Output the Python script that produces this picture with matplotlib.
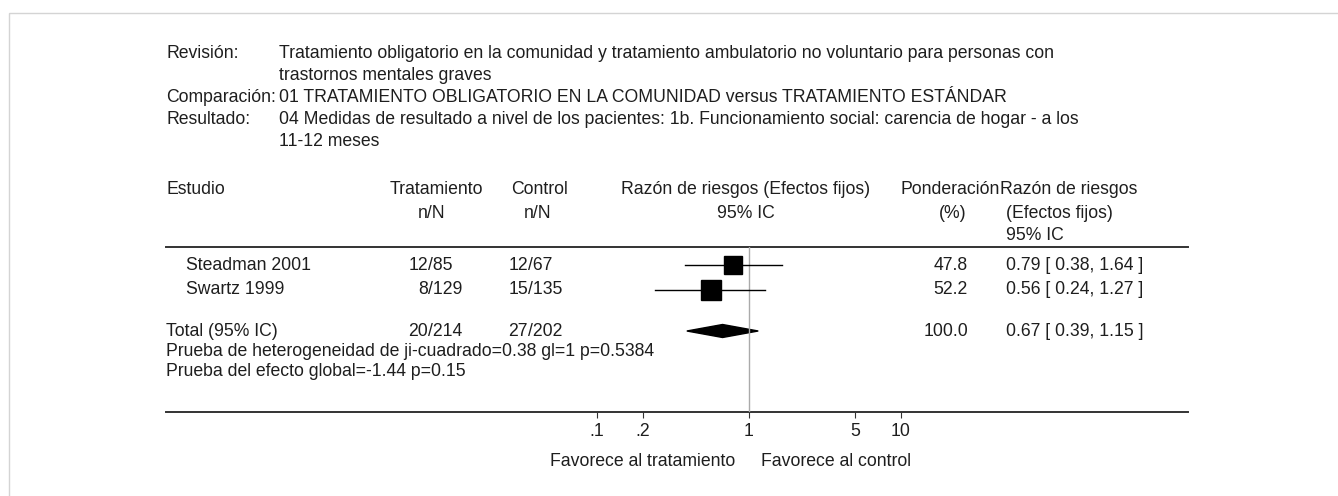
import matplotlib.pyplot as plt
from matplotlib.patches import Polygon, Rectangle

plt.rcParams['font.family'] = ['Liberation Sans', 'DejaVu Sans']

# datos
estudios = ['Steadman 2001', 'Swartz 1999']
trat_n = [12, 8]
trat_N = [85, 129]
ctrl_n = [12, 15]
ctrl_N = [67, 135]
rr = [0.79, 0.56]
ic_inf = [0.38, 0.24]
ic_sup = [1.64, 1.27]
pesos = [47.8, 52.2]

total_trat = (20, 214)
total_ctrl = (27, 202)
total_rr = 0.67
total_ic = (0.39, 1.15)
total_peso = 100.0

ticks = [0.1, 0.2, 1, 5, 10]
tick_labels = ['.1', '.2', '1', '5', '10']

titulos = [
    ('Revisión:', 'Tratamiento obligatorio en la comunidad y tratamiento ambulatorio no voluntario para personas con'),
    ('', 'trastornos mentales graves'),
    ('Comparación:', '01 TRATAMIENTO OBLIGATORIO EN LA COMUNIDAD versus TRATAMIENTO ESTÁNDAR'),
    ('Resultado:', '04 Medidas de resultado a nivel de los pacientes: 1b. Funcionamiento social: carencia de hogar - a los'),
    ('', '11-12 meses'),
]

W, H = 1338, 496
fs = 12.7
tc = '#1e1e1e'

fig = plt.figure(figsize=(W / 100, H / 100), dpi=100)
ax = fig.add_axes([0, 0, 1, 1])
ax.set_xlim(0, W)
ax.set_ylim(H, 0)
ax.axis('off')

# marco gris
ax.add_patch(Rectangle((9, 13), W + 20, H + 20, fill=False, ec='#d4d4d4', lw=1))

# cabecera
x0 = 166
y_tit = [54, 76, 98, 120, 142]
for (lab, txt), y in zip(titulos, y_tit):
    if lab:
        ax.text(x0, y, lab, fontsize=fs, color=tc, va='center')
    ax.text(279, y, txt, fontsize=fs, color=tc, va='center')

# encabezados de columnas
ax.text(x0, 190, 'Estudio', fontsize=fs, color=tc, va='center')
ax.text(436, 190, 'Tratamiento', fontsize=fs, color=tc, va='center', ha='center')
ax.text(432, 213, 'n/N', fontsize=fs, color=tc, va='center', ha='center')
ax.text(540, 190, 'Control', fontsize=fs, color=tc, va='center', ha='center')
ax.text(538, 213, 'n/N', fontsize=fs, color=tc, va='center', ha='center')
ax.text(746, 190, 'Razón de riesgos (Efectos fijos)', fontsize=fs, color=tc, va='center', ha='center')
ax.text(746, 213, '95% IC', fontsize=fs, color=tc, va='center', ha='center')
ax.text(901, 190, 'Ponderación', fontsize=fs, color=tc, va='center')
ax.text(966, 213, '(%)', fontsize=fs, color=tc, va='center', ha='right')
ax.text(1000, 190, 'Razón de riesgos', fontsize=fs, color=tc, va='center')
ax.text(1006, 213, '(Efectos fijos)', fontsize=fs, color=tc, va='center')
ax.text(1006, 235, '95% IC', fontsize=fs, color=tc, va='center')

# lineas horizontales
ax.plot([x0, 1188], [247, 247], color='#333333', lw=1.4)
ax.plot([x0, 1188], [412, 412], color='#333333', lw=1.4)

# panel del forest plot
fx = fig.add_axes([597 / W, (H - 412) / H, (901 - 597) / W, (412 - 247) / H])
fx.set_xscale('log')
fx.set_xlim(0.1, 10)
fx.set_ylim(412, 247)
fx.patch.set_alpha(0)
for s in fx.spines.values():
    s.set_visible(False)
fx.set_yticks([])
fx.set_xticks(ticks)
fx.set_xticklabels(tick_labels)
fx.xaxis.set_minor_locator(plt.NullLocator())
fx.tick_params(axis='x', length=4, width=0.8, color='#333333', labelsize=fs,
               labelcolor=tc, pad=4)
fx.axvline(1, color='#aaaaaa', lw=1)

y_filas = [265, 290]
y_total = 331


def fila(y, n, N, slash_x):
    ax.text(slash_x, y, str(n), fontsize=fs, color=tc, va='center', ha='right')
    ax.text(slash_x, y, '/' + str(N), fontsize=fs, color=tc, va='center', ha='left')


for i, y in enumerate(y_filas):
    ax.text(186, y, estudios[i], fontsize=fs, color=tc, va='center')
    fila(y, trat_n[i], trat_N[i], 428)
    fila(y, ctrl_n[i], ctrl_N[i], 528)
    fx.plot([ic_inf[i], ic_sup[i]], [y, y], color='black', lw=1, clip_on=False)
    lado = pesos[i] * 0.37
    fx.plot(rr[i], y, marker='s', ms=lado * 0.72, color='black', clip_on=False)
    ax.text(968, y, f'{pesos[i]:.1f}', fontsize=fs, color=tc, va='center', ha='right')
    ax.text(1006, y, f'{rr[i]:.2f} [ {ic_inf[i]:.2f}, {ic_sup[i]:.2f} ]',
            fontsize=fs, color=tc, va='center')

# total
ax.text(x0, y_total, 'Total (95% IC)', fontsize=fs, color=tc, va='center')
fila(y_total, total_trat[0], total_trat[1], 428)
fila(y_total, total_ctrl[0], total_ctrl[1], 528)
fx.add_patch(Polygon([(total_ic[0], y_total), (total_rr, y_total - 6.5),
                      (total_ic[1], y_total), (total_rr, y_total + 6.5)],
                     closed=True, color='black', clip_on=False))
ax.text(968, y_total, f'{total_peso:.1f}', fontsize=fs, color=tc, va='center', ha='right')
ax.text(1006, y_total, f'{total_rr:.2f} [ {total_ic[0]:.2f}, {total_ic[1]:.2f} ]',
        fontsize=fs, color=tc, va='center')

ax.text(x0, 352, 'Prueba de heterogeneidad de ji-cuadrado=0.38 gl=1 p=0.5384',
        fontsize=fs, color=tc, va='center')
ax.text(x0, 372, 'Prueba del efecto global=-1.44 p=0.15', fontsize=fs, color=tc, va='center')

ax.text(735, 462, 'Favorece al tratamiento', fontsize=fs, color=tc, va='center', ha='right')
ax.text(761, 462, 'Favorece al control', fontsize=fs, color=tc, va='center')

fig.savefig('out.png', dpi=100)
